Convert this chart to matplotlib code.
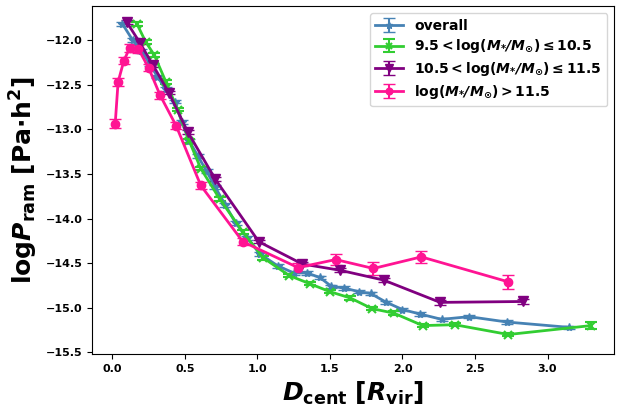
import numpy as np
import matplotlib.pyplot as plt

# binned ram pressure profiles vs. cluster-centric distance
x_all = [0.07, 0.14, 0.20, 0.26, 0.31, 0.37, 0.43, 0.48, 0.53, 0.59, 0.65, 0.71, 0.78, 0.85, 0.93,
         1.02, 1.14, 1.25, 1.34, 1.43, 1.51, 1.60, 1.70, 1.78, 1.89, 2.00, 2.12, 2.27, 2.46, 2.72, 3.15]
y_all = [-11.82, -12.00, -12.12, -12.27, -12.41, -12.55, -12.69, -12.92, -13.13, -13.30, -13.47, -13.65,
         -13.85, -14.05, -14.22, -14.40, -14.53, -14.61, -14.61, -14.66, -14.76, -14.78, -14.82, -14.84,
         -14.94, -15.02, -15.07, -15.13, -15.10, -15.16, -15.22]
e_all = [0.02] * len(x_all)

x_lo = [0.17, 0.23, 0.29, 0.37, 0.45, 0.53, 0.61, 0.74, 0.90, 1.04, 1.22, 1.36, 1.50, 1.64, 1.79,
        1.94, 2.14, 2.36, 2.73, 3.30]
y_lo = [-11.82, -12.02, -12.17, -12.47, -12.78, -13.13, -13.44, -13.78, -14.15, -14.44, -14.64, -14.73,
        -14.82, -14.89, -15.01, -15.06, -15.20, -15.19, -15.30, -15.20]
e_lo = [0.02] * 19 + [0.04]

x_mid = [0.10, 0.19, 0.28, 0.39, 0.52, 0.71, 1.01, 1.31, 1.57, 1.87, 2.26, 2.83]
y_mid = [-11.80, -12.03, -12.28, -12.59, -13.03, -13.56, -14.26, -14.51, -14.58, -14.69, -14.94, -14.93]
e_mid = [0.02, 0.02, 0.02, 0.02, 0.02, 0.02, 0.02, 0.02, 0.02, 0.02, 0.03, 0.03]

x_hi = [0.02, 0.04, 0.08, 0.12, 0.18, 0.25, 0.33, 0.44, 0.61, 0.90, 1.28, 1.54, 1.80, 2.13, 2.73]
y_hi = [-12.94, -12.47, -12.23, -12.09, -12.10, -12.31, -12.62, -12.96, -13.63, -14.26, -14.55, -14.46,
        -14.56, -14.43, -14.71]
e_hi = [0.05, 0.05, 0.04, 0.04, 0.04, 0.04, 0.04, 0.04, 0.04, 0.04, 0.05, 0.065, 0.07, 0.07, 0.075]

labels = ['overall',
          r'$\mathbf{9.5 < log(}\mathbfit{M_{*}/M_{\odot}}\mathbf{) \leq 10.5}$',
          r'$\mathbf{10.5 < log(}\mathbfit{M_{*}/M_{\odot}}\mathbf{) \leq 11.5}$',
          r'$\mathbf{log(}\mathbfit{M_{*}/M_{\odot}}\mathbf{) > 11.5}$']


def main():
    fig = plt.figure(figsize=(6.3, 4.08), dpi=100)
    ax = fig.add_axes([0.146, 0.132, 0.829, 0.853])

    kw = dict(capsize=4, lw=2, elinewidth=1.5, markersize=6)
    ax.errorbar(x_all, y_all, yerr=e_all, color='steelblue', marker='*', label=labels[0], **kw)
    ax.errorbar(x_lo, y_lo, yerr=e_lo, color='limegreen', marker='x', markeredgewidth=1.5,
                label=labels[1], **kw)
    ax.errorbar(x_mid, y_mid, yerr=e_mid, color='purple', marker='v', markersize=7,
                capsize=4, lw=2, elinewidth=1.5, label=labels[2])
    ax.errorbar(x_hi, y_hi, yerr=e_hi, color='deeppink', marker='o', label=labels[3], **kw)

    ax.set_xlim(-0.14, 3.46)
    ax.set_ylim(-15.52, -11.62)
    ax.set_xticks(np.arange(0, 3.01, 0.5))
    ax.set_yticks(np.arange(-15.5, -11.9, 0.5))
    for t in ax.get_xticklabels() + ax.get_yticklabels():
        t.set_fontweight('bold')
        t.set_fontsize(8)

    ax.set_xlabel(r'$\mathbfit{D}_{\mathbf{cent}}\ \mathbf{[}\mathbfit{R}_{\mathbf{vir}}\mathbf{]}$',
                  fontsize=18)
    ax.set_ylabel(r'$\mathbf{log}\mathbfit{P}_{\mathbf{ram}}\ \mathbf{[Pa{\cdot}h^2]}$', fontsize=18)

    ax.legend(loc='upper right', prop={'weight': 'bold', 'size': 10}, labelspacing=0.35,
              markerscale=0.8)
    plt.savefig('out.png', dpi=100)


if __name__ == '__main__':
    main()
